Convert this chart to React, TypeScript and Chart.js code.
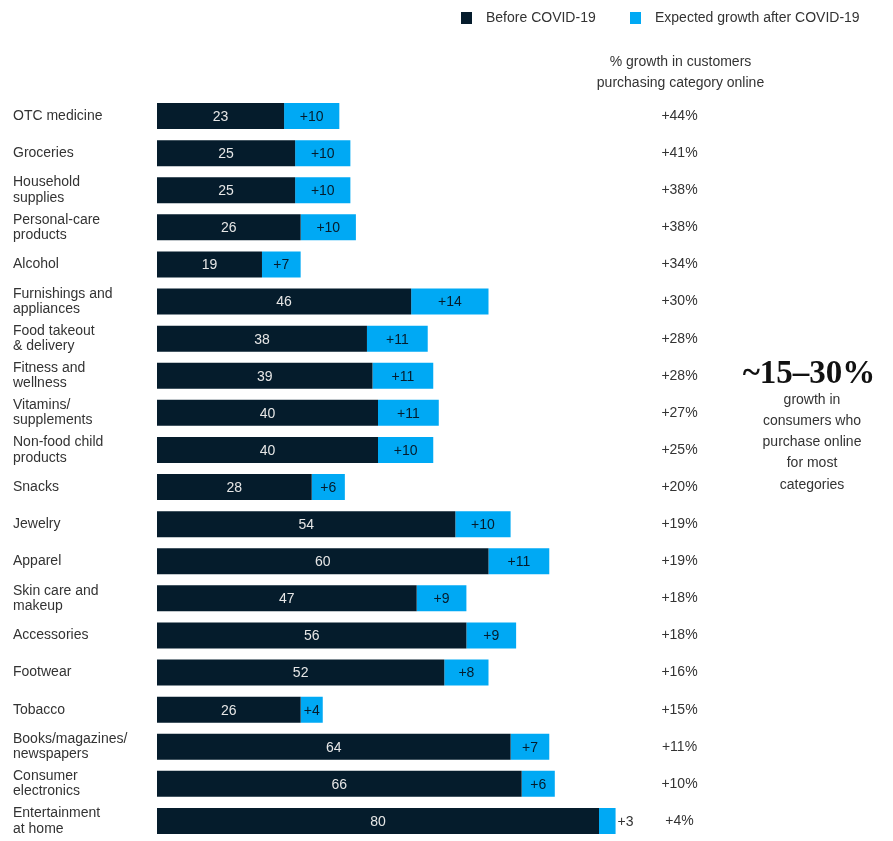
import React, { useEffect, useRef } from "react";
import { Chart, registerables } from "chart.js";

Chart.register(...registerables);

const categories: (string | string[])[] = [
  "OTC medicine",
  "Groceries",
  ["Household", "supplies"],
  ["Personal-care", "products"],
  "Alcohol",
  ["Furnishings and", "appliances"],
  ["Food takeout", "& delivery"],
  ["Fitness and", "wellness"],
  ["Vitamins/", "supplements"],
  ["Non-food child", "products"],
  "Snacks",
  "Jewelry",
  "Apparel",
  ["Skin care and", "makeup"],
  "Accessories",
  "Footwear",
  "Tobacco",
  ["Books/magazines/", "newspapers"],
  ["Consumer", "electronics"],
  ["Entertainment", "at home"],
];

const beforeCovid = [23, 25, 25, 26, 19, 46, 38, 39, 40, 40, 28, 54, 60, 47, 56, 52, 26, 64, 66, 80];
const expectedGrowth = [10, 10, 10, 10, 7, 14, 11, 11, 11, 10, 6, 10, 11, 9, 9, 8, 4, 7, 6, 3];
const growthPct = [44, 41, 38, 38, 34, 30, 28, 28, 27, 25, 20, 19, 19, 18, 18, 16, 15, 11, 10, 4];

const seriesNames = ["Before COVID-19", "Expected growth after COVID-19"];
const columnHeader = ["% growth in customers", "purchasing category online"];
const calloutBig = "~15\u201330%";
const calloutLines = ["growth in", "consumers who", "purchase online", "for most", "categories"];

const DARK = "#051c2c";
const BLUE = "#00a9f4";
const TEXT = "#333333";
const FONT = "'Liberation Sans', Arial, sans-serif";

export default function App() {
  const ref = useRef<HTMLCanvasElement | null>(null);

  useEffect(() => {
    const canvas = ref.current;
    if (!canvas) return;

    const overlay = {
      id: "overlay",
      afterDatasetsDraw(chart: any) {
        const ctx = chart.ctx as CanvasRenderingContext2D;
        const area = chart.chartArea;
        const m0 = chart.getDatasetMeta(0);
        const m1 = chart.getDatasetMeta(1);
        ctx.save();
        ctx.font = `14px ${FONT}`;
        ctx.textBaseline = "middle";
        ctx.textAlign = "center";
        const colX = area.right - 30;
        m0.data.forEach((bar: any, i: number) => {
          const left = bar.base;
          const right = bar.x;
          ctx.fillStyle = "#e6e6e6";
          ctx.fillText(String(beforeCovid[i]), (left + right) / 2, bar.y + 1);
          const b1 = m1.data[i] as any;
          const w = b1.x - b1.base;
          const lbl = "+" + expectedGrowth[i];
          if (w < 20) {
            ctx.textAlign = "left";
            ctx.fillStyle = TEXT;
            ctx.fillText(lbl, b1.x + 2, b1.y + 1);
            ctx.textAlign = "center";
          } else {
            ctx.fillStyle = DARK;
            ctx.fillText(lbl, (b1.base + b1.x) / 2, b1.y + 1);
          }
          ctx.fillStyle = TEXT;
          ctx.fillText("+" + growthPct[i] + "%", colX, bar.y);
        });

        // column header
        ctx.fillStyle = TEXT;
        ctx.font = `14px ${FONT}`;
        ctx.fillText(columnHeader[0], colX + 1, 62);
        ctx.fillText(columnHeader[1], colX + 1, 83);

        // legend
        const legendY = 18;
        ctx.textAlign = "left";
        ctx.fillStyle = DARK;
        ctx.fillRect(461, legendY - 6, 11, 12);
        ctx.fillStyle = TEXT;
        ctx.fillText(seriesNames[0], 486, legendY);
        ctx.fillStyle = BLUE;
        ctx.fillRect(630, legendY - 6, 11, 12);
        ctx.fillStyle = TEXT;
        ctx.fillText(seriesNames[1], 655, legendY);

        // callout
        ctx.textAlign = "center";
        ctx.fillStyle = "#111";
        ctx.font = `bold 33px 'Liberation Serif', 'DejaVu Serif', serif`;
        ctx.fillText(calloutBig, 809, 374);
        ctx.fillStyle = TEXT;
        ctx.font = `14px ${FONT}`;
        calloutLines.forEach((t, k) => {
          ctx.fillText(t, 812, 400 + k * 21.2);
        });
        ctx.restore();
      },
    };

    const chart = new Chart(canvas, {
      type: "bar",
      data: {
        labels: categories,
        datasets: [
          {
            label: seriesNames[0],
            data: beforeCovid,
            backgroundColor: DARK,
            borderWidth: 0,
            categoryPercentage: 1,
            barPercentage: 0.7,
          },
          {
            label: seriesNames[1],
            data: expectedGrowth,
            backgroundColor: BLUE,
            borderWidth: 0,
            categoryPercentage: 1,
            barPercentage: 0.7,
          },
        ],
      },
      options: {
        indexAxis: "y",
        responsive: false,
        animation: false,
        maintainAspectRatio: false,
        layout: { padding: { top: 97.5, bottom: 1.5, left: 13, right: 183.5 } },
        plugins: {
          legend: { display: false },
          tooltip: { enabled: false },
        },
        scales: {
          x: {
            stacked: true,
            min: 0,
            max: 100,
            display: false,
          },
          y: {
            stacked: true,
            grid: { display: false, drawTicks: false },
            border: { display: false },
            afterFit: (scale: any) => {
              scale.width = 144;
              scale.paddingTop = 0;
              scale.paddingBottom = 0;
            },
            ticks: {
              crossAlign: "far",
              color: TEXT,
              padding: 0,
              font: { family: FONT, size: 14, lineHeight: 1.1 },
            },
          },
        },
      },
      plugins: [overlay],
    });

    return () => chart.destroy();
  }, []);

  return (
    <div style={{ position: "absolute", left: 0, top: 0, width: 893, height: 841, background: "#fff" }}>
      <canvas ref={ref} width={893} height={841} style={{ display: "block" }} />
    </div>
  );
}
